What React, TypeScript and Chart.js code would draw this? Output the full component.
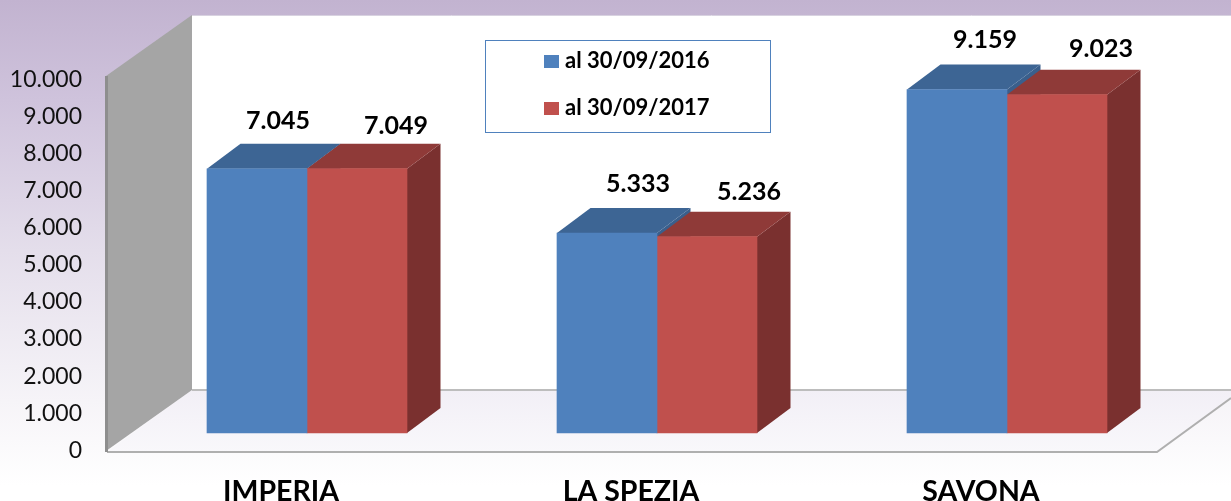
import React, { useEffect, useRef } from "react";
import { Chart, registerables } from "chart.js";

Chart.register(...registerables);

const categories = ["IMPERIA", "LA SPEZIA", "SAVONA"];
const series2016 = [7045, 5333, 9159];
const series2017 = [7049, 5236, 9023];
const seriesNames = ["al 30/09/2016", "al 30/09/2017"];
const valueLabels2016 = ["7.045", "5.333", "9.159"];
const valueLabels2017 = ["7.049", "5.236", "9.023"];
const tickValues = [0, 1000, 2000, 3000, 4000, 5000, 6000, 7000, 8000, 9000, 10000];
const tickLabels = ["0", "1.000", "2.000", "3.000", "4.000", "5.000", "6.000", "7.000", "8.000", "9.000", "10.000"];

const FONT = "Lato, 'Open Sans', sans-serif";
const depthX = 33.5;
const depthY = 25;
const labelOffsets = [
  [[21, -48], [31, -49], [28, -50]],
  [[39, -43], [42, -45], [44, -46]],
];
const faceColors = [
  { top: "#3D6594", side: "#3A5F8C" },
  { top: "#8F3A38", side: "#7A302F" },
];

const zeroPadding = (scale: any) => {
  scale.paddingTop = 0;
  scale.paddingBottom = 0;
  scale.paddingLeft = 0;
  scale.paddingRight = 0;
};

const scene3D = {
  id: "scene3D",
  beforeDraw(chart: any) {
    const { ctx, width, height } = chart;
    const g = ctx.createLinearGradient(0, 0, 0, height);
    g.addColorStop(0, "#C2B3D0");
    g.addColorStop(0.2, "#CFC3DC");
    g.addColorStop(0.5, "#E4DEEB");
    g.addColorStop(0.8, "#F6F4F8");
    g.addColorStop(0.97, "#FFFFFF");
    ctx.save();
    ctx.fillStyle = g;
    ctx.fillRect(0, 0, width, height);
    ctx.restore();
  },
  beforeDatasetsDraw(chart: any) {
    const { ctx, width } = chart;
    ctx.save();
    // back wall
    ctx.fillStyle = "#FFFFFF";
    ctx.fillRect(192, 15, width - 192, 375);
    ctx.strokeStyle = "#D8D2E0";
    ctx.lineWidth = 1;
    ctx.beginPath();
    ctx.moveTo(192, 15.5);
    ctx.lineTo(width, 15.5);
    ctx.stroke();
    // floor
    const fg = ctx.createLinearGradient(0, 390, 0, 452);
    fg.addColorStop(0, "#F2EFF6");
    fg.addColorStop(1, "#F9F8FB");
    ctx.fillStyle = fg;
    ctx.beginPath();
    ctx.moveTo(107, 452);
    ctx.lineTo(1157, 452);
    ctx.lineTo(1231, 398);
    ctx.lineTo(1231, 390);
    ctx.lineTo(192, 390);
    ctx.closePath();
    ctx.fill();
    ctx.strokeStyle = "#BDBDBD";
    ctx.lineWidth = 2;
    ctx.beginPath();
    ctx.moveTo(192, 390);
    ctx.lineTo(1231, 390);
    ctx.stroke();
    ctx.strokeStyle = "#AFAFAF";
    ctx.beginPath();
    ctx.moveTo(107, 452);
    ctx.lineTo(1157, 452);
    ctx.lineTo(1231, 398);
    ctx.stroke();
    // side wall
    ctx.fillStyle = "#A5A5A5";
    ctx.beginPath();
    ctx.moveTo(106, 76);
    ctx.lineTo(192, 15);
    ctx.lineTo(192, 390);
    ctx.lineTo(106, 451);
    ctx.closePath();
    ctx.fill();
    ctx.fillStyle = "#8E8E8E";
    ctx.fillRect(105, 76, 3, 376);
    // bar top and side faces
    chart.data.datasets.forEach((_: any, di: number) => {
      const meta = chart.getDatasetMeta(di);
      const colors = faceColors[di];
      meta.data.forEach((bar: any) => {
        const p = bar.getProps(["x", "y", "base", "width"], true);
        const l = p.x - p.width / 2;
        const r = p.x + p.width / 2;
        ctx.fillStyle = colors.side;
        ctx.beginPath();
        ctx.moveTo(r, p.y);
        ctx.lineTo(r + depthX, p.y - depthY);
        ctx.lineTo(r + depthX, p.base - depthY);
        ctx.lineTo(r, p.base);
        ctx.closePath();
        ctx.fill();
        ctx.fillStyle = colors.top;
        ctx.beginPath();
        ctx.moveTo(l, p.y);
        ctx.lineTo(l + depthX, p.y - depthY);
        ctx.lineTo(r + depthX, p.y - depthY);
        ctx.lineTo(r, p.y);
        ctx.closePath();
        ctx.fill();
      });
    });
    ctx.restore();
  },
  afterDatasetsDraw(chart: any) {
    const { ctx } = chart;
    ctx.save();
    // value labels
    ctx.font = `bold 25px ${FONT}`;
    ctx.fillStyle = "#000000";
    ctx.textAlign = "center";
    ctx.textBaseline = "middle";
    [valueLabels2016, valueLabels2017].forEach((labels, di) => {
      chart.getDatasetMeta(di).data.forEach((bar: any, i: number) => {
        const p = bar.getProps(["x", "y"], true);
        ctx.fillText(labels[i], p.x + labelOffsets[di][i][0], p.y + labelOffsets[di][i][1]);
      });
    });
    // legend
    ctx.fillStyle = "#FFFFFF";
    ctx.fillRect(485, 40, 285, 92);
    ctx.strokeStyle = "#4F81BD";
    ctx.lineWidth = 1;
    ctx.strokeRect(485.5, 40.5, 285, 92);
    ctx.font = `bold 22px ${FONT}`;
    ctx.textAlign = "left";
    chart.data.datasets.forEach((ds: any, di: number) => {
      const y = di === 0 ? 61 : 108;
      ctx.fillStyle = ds.backgroundColor;
      ctx.fillRect(544, y - 6, 15, 13);
      ctx.fillStyle = "#000000";
      ctx.fillText(seriesNames[di], 565, y);
    });
    ctx.restore();
  },
};

export default function App() {
  const ref = useRef<HTMLCanvasElement>(null);
  useEffect(() => {
    const chart = new Chart(ref.current as HTMLCanvasElement, {
      type: "bar",
      data: {
        labels: categories,
        datasets: [
          { label: seriesNames[0], data: series2016, backgroundColor: "#4F81BD", yAxisID: "y", barThickness: 100 },
          { label: seriesNames[1], data: series2017, backgroundColor: "#C0504D", yAxisID: "y", barThickness: 100 },
        ],
      },
      options: {
        responsive: false,
        animation: false,
        layout: { padding: { top: 15, right: 49, left: 0, bottom: 0 } },
        plugins: { legend: { display: false }, tooltip: { enabled: false } },
        scales: {
          x: {
            grid: { display: false, drawTicks: false },
            border: { display: false },
            afterFit(scale: any) { scale.height = 49; zeroPadding(scale); },
            ticks: {
              labelOffset: -26,
              padding: 23,
              maxRotation: 0,
              autoSkip: false,
              color: "#000000",
              font: { family: FONT, size: 28.5, weight: "bold" },
            },
          },
          y: {
            display: false,
            min: -506.67,
            max: 11146.67,
          },
          y2: {
            position: "left",
            min: -45,
            max: 11734,
            grid: { display: false, drawTicks: false },
            border: { display: false },
            afterBuildTicks(scale: any) { scale.ticks = tickValues.map((value) => ({ value })); },
            afterFit(scale: any) { scale.width = 132; zeroPadding(scale); },
            ticks: {
              padding: 50,
              color: "#111111",
              font: { family: FONT, size: 23 },
              callback: (v: any) => tickLabels[tickValues.indexOf(Number(v))] ?? "",
            },
          },
        },
      } as any,
      plugins: [scene3D],
    });
    return () => chart.destroy();
  }, []);
  return (
    <canvas
      ref={ref}
      width={1231}
      height={501}
      style={{ position: "absolute", left: 0, top: 0, width: 1231, height: 501, display: "block" }}
    />
  );
}
